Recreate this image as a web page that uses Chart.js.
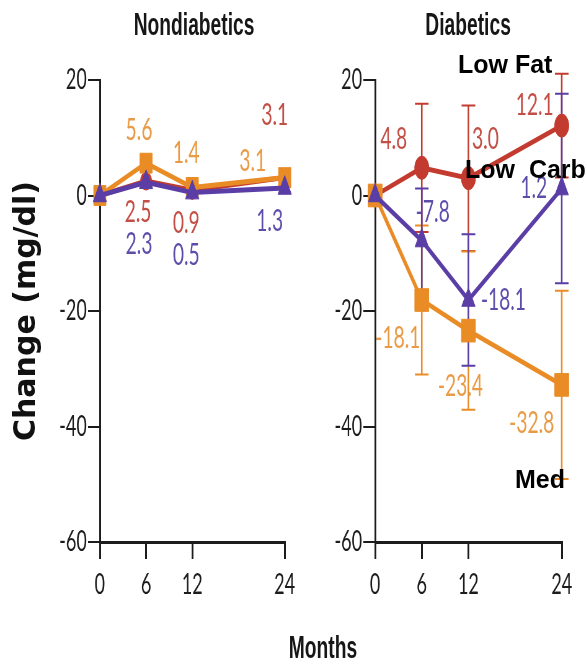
<!DOCTYPE html>
<html>
<head>
<meta charset="utf-8">
<script src="https://cdn.jsdelivr.net/npm/chart.js@4.4.1/dist/chart.umd.min.js"></script>
<style>
  html, body { margin: 0; padding: 0; background: #fff; }
  body { width: 587px; height: 668px; overflow: hidden; position: relative; }
  /* the figure is laid out wide and squeezed horizontally as a whole */
  #stage { position: absolute; left: 0; top: 0; width: 947px; height: 668px;
           transform: scaleX(0.62); transform-origin: 0 0; }
  #stage canvas { position: absolute; top: 0; }
  .panel-title { position: absolute; top: 9px; width: 400px; text-align: center;
                 font: bold 31px/31px "Liberation Sans", Arial, sans-serif; color: #161616; }
  #months { position: absolute; top: 632px; left: 321px; width: 400px; text-align: center;
            font: bold 31px/31px "Liberation Sans", Arial, sans-serif; color: #161616; }
  #ytitle { position: absolute; left: -135px; top: 296px; width: 320px; height: 30px;
            text-align: center; white-space: nowrap; transform: rotate(-90deg);
            font: bold 30px/30px "DejaVu Sans", Verdana, sans-serif; color: #111; }
  .tag { position: absolute; white-space: pre; color: #000;
         font: bold 25px/25px "Liberation Sans", Arial, sans-serif; }
</style>
</head>
<body>
<div id="stage">
  <div class="panel-title" style="left:113px">Nondiabetics</div>
  <div class="panel-title" style="left:555px">Diabetics</div>
  <canvas id="nondiabetic" width="484" height="620" style="left:0"></canvas>
  <canvas id="diabetic" width="463" height="620" style="left:484px"></canvas>
  <div id="months">Months</div>
</div>
<div id="ytitle">Change (mg/dl)</div>
<div class="tag" style="left:458px; top:52px">Low Fat</div>
<div class="tag" style="left:465px; top:157px">Low  Carb</div>
<div class="tag" style="left:515px; top:467px">Med</div>

<script>
// Follow-up visits (months) and the value axis ticks
const months = [0, 6, 12, 24];
const yTicks = [-60, -40, -20, 0, 20];

// Nondiabetics: mean change (mg/dl)
const nonLowFat  = [0, 2.5, 0.9, 3.1];
const nonLowCarb = [0, 2.3, 0.5, 1.3];
const nonMed     = [0, 5.6, 1.4, 3.1];

// Diabetics: mean change (mg/dl)
const diaLowFat  = [0, 4.8, 3.0, 12.1];
const diaLowCarb = [0, -7.8, -18.1, 1.2];
const diaMed     = [0, -18.1, -23.4, -32.8];

// Diabetics: spread drawn as error bars (±)
const diaLowFatErr  = [0, 11.1, 12.6, 9.0];
const diaLowCarbErr = [0, 9.0, 11.4, 16.4];
const diaMedErr     = [0, 12.9, 13.7, 16.3];

const SQUEEZE = 0.62;            // horizontal squeeze applied to #stage
const ink = '#1c1c1c';
const tickFont = { family: 'Lato, "Liberation Sans", sans-serif', size: 29 };
const colors      = { lowFat: '#c23b2e', lowCarb: '#5a3ea6', med: '#e98c26' };
const labelColors = { lowFat: '#c24e45', lowCarb: '#5d4dab', med: '#e99a45' };
const drawOrder = ['lowCarb', 'med', 'lowFat'];   // first one ends up on top
const barOrder  = ['lowFat', 'med', 'lowCarb'];   // last one ends up on top

// value-label placement around each point, in screen pixels [dx, dy]
const nonLabelPos = {
  lowFat:  [null, [-8, 31], [-6, 33], [-10, -63]],
  lowCarb: [null, [-7, 62], [-6, 62], [-15, 33]],
  med:     [null, [-7, -33], [-6, -34], [-32, -17]]
};
const diaLabelPos = {
  lowFat:  [null, [-28, -29], [17, -39], [-27, -21]],
  lowCarb: [null, [11, -29], [35, 0], [-28, -1]],
  med:     [null, [-24, 38], [-8, 55], [-30, 38]]
};

function decorPlugin(groups, labelPos) {
  return {
    id: 'panelDecor',
    beforeDatasetsDraw(chart) {
      const { ctx, scales: { x, y } } = chart;
      barOrder.forEach(key => {
        const g = groups[key];
        if (!g.err) return;
        ctx.save();
        ctx.strokeStyle = colors[key];
        g.values.forEach((v, i) => {
          const e = g.err[i];
          if (!e) return;
          const px = x.getPixelForValue(months[i]);
          const top = y.getPixelForValue(v + e);
          const bot = y.getPixelForValue(v - e);
          ctx.lineWidth = 2.6;
          ctx.beginPath(); ctx.moveTo(px, top); ctx.lineTo(px, bot); ctx.stroke();
          ctx.lineWidth = 2;
          ctx.beginPath();
          ctx.moveTo(px - 11, top); ctx.lineTo(px + 11, top);
          ctx.moveTo(px - 11, bot); ctx.lineTo(px + 11, bot);
          ctx.stroke();
        });
        ctx.restore();
      });
    },
    afterDatasetsDraw(chart) {
      const { ctx, scales: { x, y } } = chart;
      ctx.save();
      ctx.font = '31px Lato, "Liberation Sans", sans-serif';
      ctx.textAlign = 'center';
      ctx.textBaseline = 'middle';
      Object.keys(groups).forEach(key => {
        ctx.fillStyle = labelColors[key];
        groups[key].values.forEach((v, i) => {
          const off = labelPos[key][i];
          if (!off) return;
          const px = x.getPixelForValue(months[i]) + off[0] / SQUEEZE;
          const py = y.getPixelForValue(v) + off[1];
          ctx.fillText(v.toFixed(1), px, py);
        });
      });
      ctx.restore();
    }
  };
}

function buildPanel(id, groups, labelPos, look) {
  const datasets = drawOrder.map(key => ({
    label: groups[key].name,
    data: months.map((m, i) => ({ x: m, y: groups[key].values[i] })),
    borderColor: colors[key],
    backgroundColor: colors[key],
    borderWidth: 5,
    pointStyle: look.marker[key][0],
    pointRadius: look.marker[key][1],
    pointBackgroundColor: colors[key],
    pointBorderColor: colors[key],
    pointBorderWidth: 1,
    tension: 0,
    clip: false
  }));
  return new Chart(document.getElementById(id), {
    type: 'line',
    data: { datasets },
    options: {
      responsive: false,
      animation: false,
      events: [],
      layout: { padding: look.padding },
      plugins: { legend: { display: false }, tooltip: { enabled: false }, title: { display: false } },
      scales: {
        x: {
          type: 'linear', min: 0, max: 24,
          afterBuildTicks: s => { s.ticks = months.map(v => ({ value: v })); },
          afterFit: s => { s.height = 60; },
          border: { display: true, color: ink, width: 3 },
          grid: { display: true, drawOnChartArea: false, drawTicks: true,
                  tickLength: 17, tickWidth: 3, lineWidth: 3, tickColor: ink, color: ink },
          ticks: { color: ink, font: tickFont, padding: 8, maxRotation: 0, autoSkip: false,
                   callback: v => String(v) }
        },
        y: {
          type: 'linear', min: -60, max: 20,
          afterBuildTicks: s => { s.ticks = yTicks.map(v => ({ value: v })); },
          afterFit: s => { s.width = look.yAxisWidth; },
          border: { display: true, color: ink, width: 3 },
          grid: { display: true, drawOnChartArea: false, drawTicks: true,
                  tickLength: 19, tickWidth: 2, lineWidth: 2, tickColor: ink, color: ink },
          ticks: { color: ink, font: tickFont, padding: 2, autoSkip: false,
                   callback: v => String(v) }
        }
      }
    },
    plugins: [decorPlugin(groups, labelPos)]
  });
}

buildPanel('nondiabetic', {
  lowFat:  { name: 'Low Fat',  values: nonLowFat },
  lowCarb: { name: 'Low Carb', values: nonLowCarb },
  med:     { name: 'Med',      values: nonMed }
}, nonLabelPos, {
  padding: { left: 0, right: 21, top: 80, bottom: 18 },
  yAxisWidth: 161,
  marker: { lowFat: ['circle', 9], lowCarb: ['triangle', 12.5], med: ['rect', 14] }
});

buildPanel('diabetic', {
  lowFat:  { name: 'Low Fat',  values: diaLowFat,  err: diaLowFatErr },
  lowCarb: { name: 'Low Carb', values: diaLowCarb, err: diaLowCarbErr },
  med:     { name: 'Med',      values: diaMed,     err: diaMedErr }
}, diaLabelPos, {
  padding: { left: 0, right: 41, top: 80, bottom: 18 },
  yAxisWidth: 121,
  marker: { lowFat: ['circle', 11.5], lowCarb: ['triangle', 12.5], med: ['rect', 16] }
});
</script>
</body>
</html>
